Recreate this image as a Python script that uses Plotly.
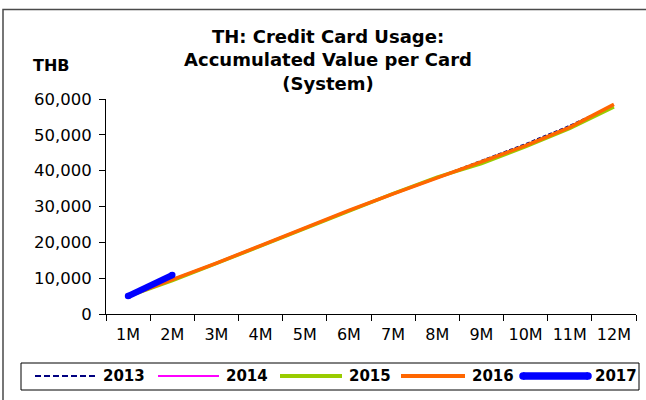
import plotly.graph_objects as go

# Accumulated credit card spending per card (THB), by month of the year
months = ["1M", "2M", "3M", "4M", "5M", "6M", "7M", "8M", "9M", "10M", "11M", "12M"]
y2013 = [5100, 9600, 14300, 19200, 24100, 28900, 33500, 38100, 42700, 47500, 52600, 58300]
y2014 = [5000, 9400, 14200, 19100, 24000, 28900, 33500, 38000, 42300, 47100, 52200, 58300]
y2015 = [4900, 9300, 14100, 19000, 23900, 28900, 33600, 38200, 42000, 46700, 51800, 57800]
y2016 = [5000, 9500, 14200, 19100, 24000, 28900, 33500, 38000, 42300, 47000, 52100, 58500]
y2017 = [5000, 10850]
y_ticks = [0, 10000, 20000, 30000, 40000, 50000, 60000]
y_tick_text = ["0", "10,000", "20,000", "30,000", "40,000", "50,000", "60,000"]

W, H = 646, 400
L, R, T, B = 106, 636, 99, 314  # plot area in pixels

FONT = "DejaVu Sans"

series = [
    ("2013", y2013, dict(color="#000080", width=1.5, dash="4px,2px")),
    ("2014", y2014, dict(color="#FF00FF", width=1.5)),
    ("2015", y2015, dict(color="#99CC00", width=3.5)),
    ("2016", y2016, dict(color="#FF6600", width=3.5)),
    ("2017", y2017, dict(color="#0000FF", width=6.5)),
]

fig = go.Figure()
for name, vals, line in series:
    fig.add_trace(go.Scatter(
        x=months[:len(vals)], y=vals, name=name,
        mode="lines", line=line, showlegend=False, hoverinfo="x+y+name",
    ))
# rounded ends for the thick 2017 line
fig.add_trace(go.Scatter(
    x=months[:len(y2017)], y=y2017, mode="markers",
    marker=dict(color="#0000FF", size=6.5), showlegend=False, hoverinfo="skip",
))


def px(x):
    return (x - L) / (R - L)


def py(y):
    return (B - y) / (B - T)


shapes = []
annotations = []

# outer chart frame
shapes.append(dict(type="rect", xref="paper", yref="paper",
                   x0=px(3), x1=px(660), y0=py(9.5), y1=py(410),
                   line=dict(color="#4a4a4a", width=1.5), fillcolor="rgba(0,0,0,0)",
                   layer="below"))

# legend box
shapes.append(dict(type="rect", xref="paper", yref="paper",
                   x0=px(21), x1=px(639), y0=py(363), y1=py(390),
                   line=dict(color="#000000", width=1), fillcolor="white"))
leg_y = 376
legend_items = [(35, 96, 101), (158, 219, 224), (280, 342, 347), (401, 465, 470), (523, 588, 593)]
for (name, vals, line), (lx0, lx1, tx) in zip(series, legend_items):
    if "dash" in line:
        lline = dict(color=line["color"], width=2, dash="6px,3px")
    else:
        lline = dict(color=line["color"], width=line["width"] + (0.5 if line["width"] < 5 else 1))
    shapes.append(dict(type="line", xref="paper", yref="paper",
                       x0=px(lx0), x1=px(lx1), y0=py(leg_y), y1=py(leg_y), line=lline))
    annotations.append(dict(xref="paper", yref="paper", x=px(tx), y=py(leg_y),
                            xanchor="left", yanchor="middle", showarrow=False,
                            text="<b>%s</b>" % name,
                            font=dict(family=FONT, size=15, color="black")))
# rounded caps for the 2017 legend sample
for cx in (523, 588):
    shapes.append(dict(type="circle", xref="paper", yref="paper",
                       x0=px(cx - 3.75), x1=px(cx + 3.75), y0=py(leg_y - 3.75), y1=py(leg_y + 3.75),
                       line=dict(width=0), fillcolor="#0000FF"))

# axis unit label
annotations.append(dict(xref="paper", yref="paper", x=px(31), y=py(65),
                        xanchor="left", yanchor="middle", showarrow=False,
                        text="<b>THB</b>", font=dict(family=FONT, size=16, color="black")))

fig.update_layout(
    width=W, height=H,
    margin=dict(l=L, r=W - R, t=T, b=H - B, pad=0),
    paper_bgcolor="white", plot_bgcolor="white",
    title=dict(
        text="<b>TH: Credit Card Usage:<br>Accumulated Value per Card<br>(System)</b>",
        x=px(328), y=1 - 43 / H, xref="paper", yref="container",
        xanchor="center", yanchor="middle",
        font=dict(family=FONT, size=18, color="black"),
    ),
    font=dict(family=FONT, size=16, color="black"),
    shapes=shapes, annotations=annotations,
    xaxis=dict(
        type="category", range=[-0.5, 11.5], showgrid=False, zeroline=False,
        showline=True, linecolor="black", linewidth=1,
        ticks="outside", tickson="boundaries", ticklen=6, tickcolor="black",
        ticklabelstandoff=6,
        tickfont=dict(family=FONT, size=16, color="black"), fixedrange=True,
    ),
    yaxis=dict(
        range=[0, 60000], tickvals=y_ticks, ticktext=y_tick_text,
        showgrid=False, zeroline=False, showline=True, linecolor="black", linewidth=1,
        ticks="outside", ticklen=6, tickcolor="black", ticklabelstandoff=4,
        tickfont=dict(family=FONT, size=16.5, color="black"), fixedrange=True,
    ),
)

fig.write_html("out.html")
